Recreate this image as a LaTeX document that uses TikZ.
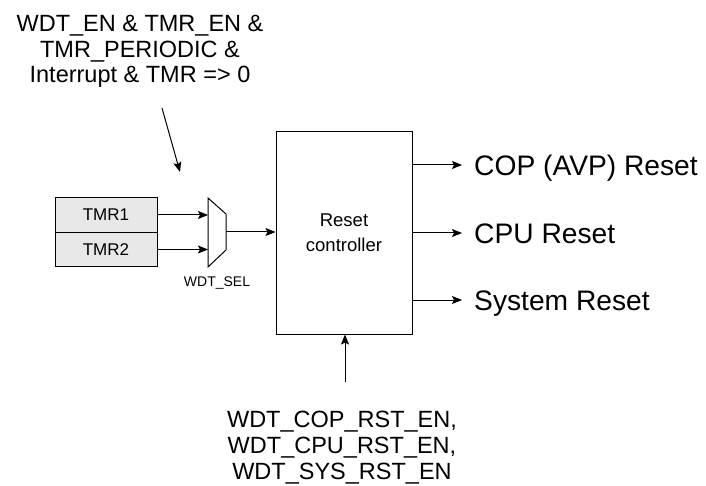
\documentclass[tikz,border=0pt]{standalone}
\usepackage{fontspec}
\setmainfont{Liberation Sans}
\usetikzlibrary{arrows.meta, positioning}

\tikzset{
  wire/.style={line width=1bp, -{Stealth[length=10bp, width=8bp, inset=2bp]}},
  tmrbox/.style={draw, line width=1bp, fill=gray!18, minimum width=102bp,
    minimum height=34.5bp, inner sep=0pt, outer sep=0pt,
    font=\fontsize{17bp}{20bp}\selectfont},
  outlbl/.style={anchor=west, inner xsep=12bp, inner ysep=0pt, text height=20.2bp,
    text depth=0pt, font=\fontsize{28.2bp}{31bp}\selectfont},
  bigtxt/.style={align=center, anchor=north, inner sep=0pt,
    font=\fontsize{23.5bp}{26bp}\selectfont},
}

\begin{document}
\begin{tikzpicture}[x=1bp, y=-1bp]
  \useasboundingbox (0,0) rectangle (706,486);

  % Timers
  \node[tmrbox] (tmr1) at (106,215) {TMR1};
  \node[tmrbox, below=0pt of tmr1] (tmr2) {TMR2};

  % Mux
  \draw[line width=1bp] (208,198) coordinate (muxtl) -- (226,214) -- (226,250)
    -- (208,267) -- cycle;
  \coordinate (muxout) at (226,232);
  \node[font=\fontsize{14bp}{16bp}\selectfont, anchor=base] (sel) at (217,286) {WDT\_SEL};
  \draw[wire] (tmr1.east) -- (tmr1.east -| muxtl);
  \draw[wire] (tmr2.east) -- (tmr2.east -| muxtl);

  % Reset controller
  \node[draw, line width=1bp, minimum width=136bp, minimum height=202bp, align=center,
    font=\fontsize{18.5bp}{25bp}\selectfont] (ctrl) at (344,233) {Reset\\controller};
  \draw[wire] (muxout) -- (muxout -| ctrl.west);

  % Outputs
  \foreach \nm/\yy/\txt in {cop/165/COP (AVP) Reset, cpu/233/CPU Reset, sys/300/System Reset}{
    \node[outlbl] (\nm) at (462,\yy) {\txt};
    \draw[wire] (ctrl.east |- \nm.west) -- (\nm.west);
  }

  % Select condition
  \node[bigtxt, font=\fontsize{23.5bp}{25.5bp}\selectfont] (cond) at (140,15.5)
    {WDT\_EN \& TMR\_EN \&\\TMR\_PERIODIC \&\\Interrupt \& TMR => 0};
  \coordinate (condtail) at (162,108);
  \coordinate (condtip) at (180,172);
  \draw[wire] (condtail) -- (condtip);

  % Enable bits
  \node[bigtxt] (en) at (342,411)
    {WDT\_COP\_RST\_EN,\\WDT\_CPU\_RST\_EN,\\WDT\_SYS\_RST\_EN};
  \coordinate (entail) at (345,382);
  \draw[wire] (entail) -- (entail |- ctrl.south);
\end{tikzpicture}
\end{document}
